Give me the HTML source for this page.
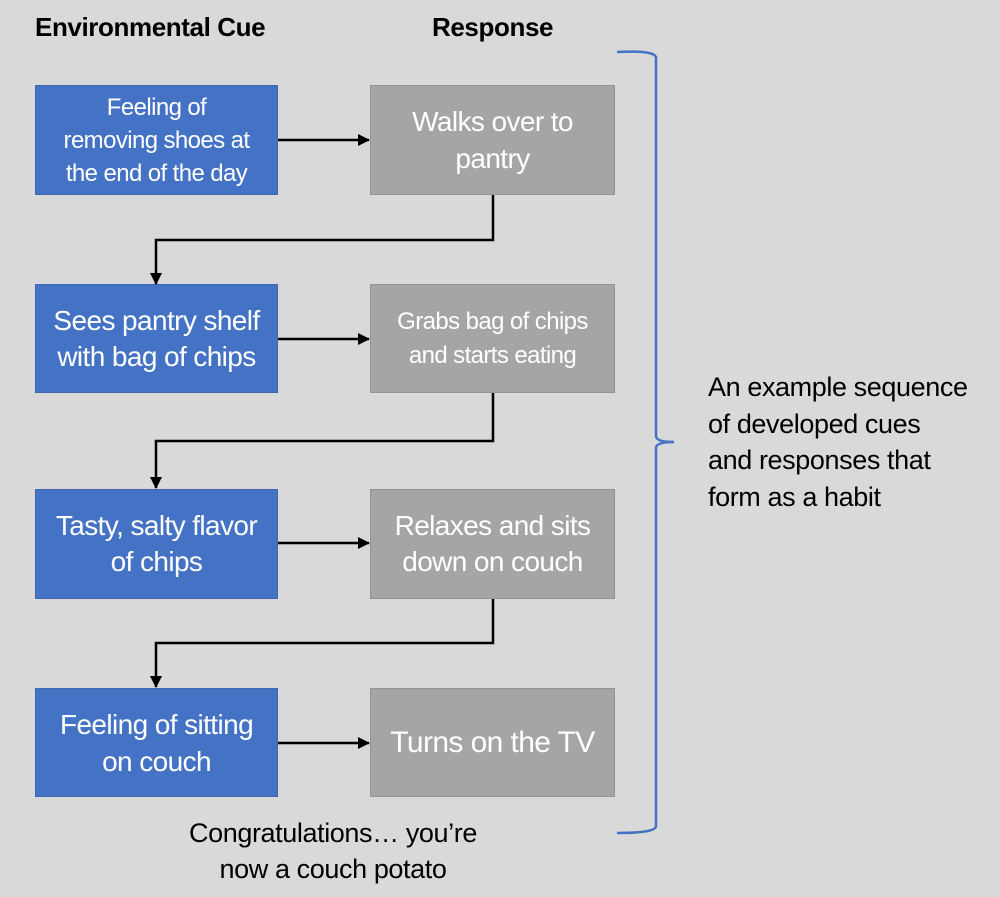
<!DOCTYPE html>
<html><head><style>
body{margin:0;background:#d9d9d9;}
#c{position:relative;width:1000px;height:897px;background:#d9d9d9;font-family:"Liberation Sans",sans-serif;overflow:hidden}
.b{position:absolute;display:flex;align-items:center;justify-content:center;text-align:center;color:#fff;box-sizing:border-box;letter-spacing:-0.6px;white-space:nowrap}
.bl{background:#4472c4;border:1px solid #3f67b0;left:35px;width:243px}
.gr{background:#a5a5a5;border:1px solid #949494;left:370px;width:245px}
.t{position:absolute;color:#000;letter-spacing:-0.4px;white-space:nowrap}
</style></head><body><div id="c">
<div class="t" style="left:35px;top:12px;font-weight:bold;font-size:26px">Environmental Cue</div>
<div class="t" style="left:432px;top:12px;font-weight:bold;font-size:26px">Response</div>

<div class="b bl" style="top:85px;height:110px;font-size:24px;line-height:33px">Feeling of<br>removing shoes at<br>the end of the day</div>
<div class="b gr" style="top:85px;height:110px;font-size:28px;line-height:37px">Walks over to<br>pantry</div>
<div class="b bl" style="top:284px;height:109px;font-size:28px;line-height:36px">Sees pantry shelf<br>with bag of chips</div>
<div class="b gr" style="top:284px;height:109px;font-size:24px;line-height:34px">Grabs bag of chips<br>and starts eating</div>
<div class="b bl" style="top:489px;height:110px;font-size:28px;line-height:36px">Tasty, salty flavor<br>of chips</div>
<div class="b gr" style="top:489px;height:110px;font-size:28px;line-height:36px">Relaxes and sits<br>down on couch</div>
<div class="b bl" style="top:688px;height:109px;font-size:28px;line-height:37px">Feeling of sitting<br>on couch</div>
<div class="b gr" style="top:688px;height:109px;font-size:30px">Turns on the TV</div>

<svg width="1000" height="897" style="position:absolute;left:0;top:0">
<defs><marker id="a" markerWidth="12" markerHeight="12" refX="11" refY="6" orient="auto" markerUnits="userSpaceOnUse"><path d="M0,0 L12,6 L0,12 z" fill="#000"/></marker></defs>
<g stroke="#000" stroke-width="2.5" fill="none" marker-end="url(#a)">
<line x1="278" y1="140" x2="369" y2="140"/>
<line x1="278" y1="339" x2="369" y2="339"/>
<line x1="278" y1="543" x2="369" y2="543"/>
<line x1="278" y1="743" x2="369" y2="743"/>
<polyline points="493,195 493,240 156,240 156,284"/>
<polyline points="493,393 493,441 156,441 156,488"/>
<polyline points="493,599 493,643 156,643 156,687"/>
</g>
<path d="M617,52 Q656,50 656,58 L656,436 Q656,442 674,442 Q656,442 656,448 L656,826 Q656,833 617,833" stroke="#4472c4" stroke-width="2.5" fill="none"/>
</svg>

<div class="t" style="left:708px;top:369px;line-height:36.5px;font-size:27px">An example sequence<br>of developed cues<br>and responses that<br>form as a habit</div>
<div class="t" style="left:133px;top:815px;width:400px;text-align:center;line-height:36px;font-size:27px">Congratulations… you’re<br>now a couch potato</div>
</div></body></html>
